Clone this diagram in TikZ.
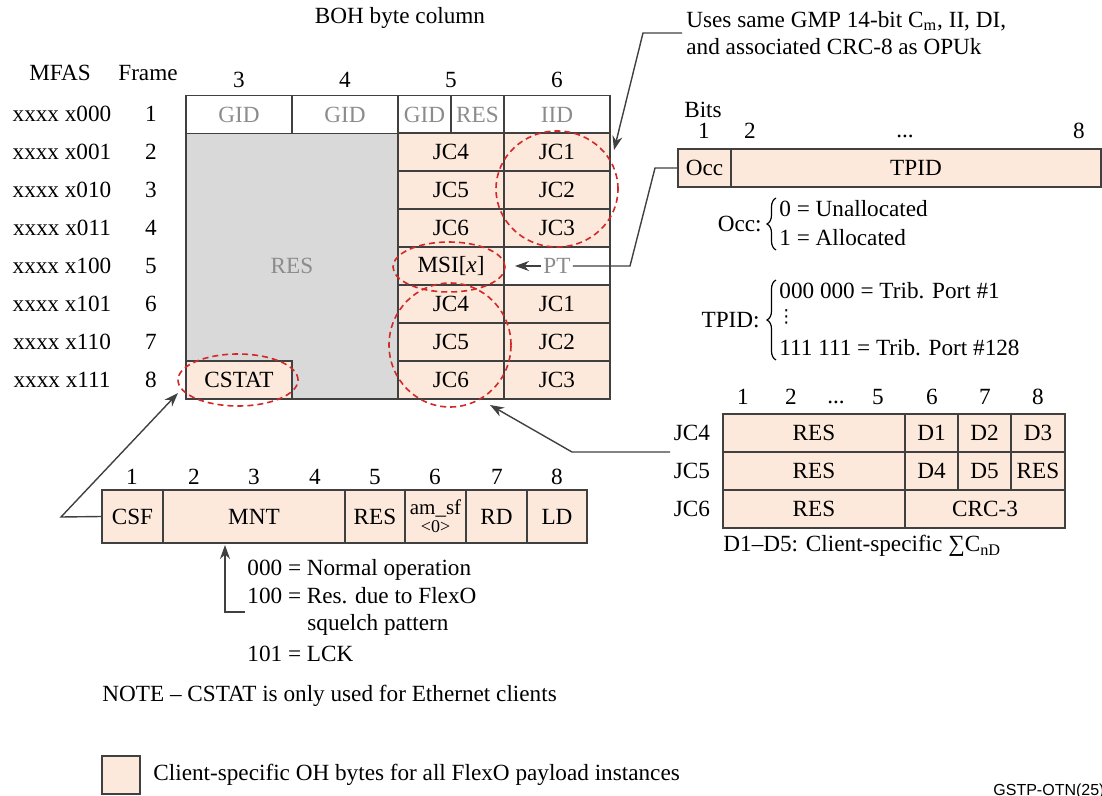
\documentclass[tikz,border=0pt]{standalone}
\usepackage{fontspec}
\setmainfont{Liberation Serif}
\setsansfont{Liberation Sans}
\newfontfamily\symfont{DejaVu Sans}
\usetikzlibrary{shapes.geometric,arrows.meta,decorations.pathreplacing}
\definecolor{clientoh}{RGB}{252,233,219}
\definecolor{resgray}{RGB}{217,217,217}
\definecolor{edgegray}{RGB}{64,64,64}
\definecolor{faded}{RGB}{140,140,140}
\definecolor{ringred}{RGB}{210,40,40}
\tikzset{
  byte/.style={
    rectangle,
    draw=edgegray,
    line width=0.8pt,
    fill=clientoh,
    minimum width=53pt,
    minimum height=19pt,
    inner sep=0pt,
  },
  hdrbyte/.style={byte, fill=white, text=faded},
  ring/.style={
    ellipse,
    draw=ringred,
    line width=0.8pt,
    dash pattern=on 3pt off 2pt,
    inner sep=0pt,
  },
  callout/.style={draw=edgegray, line width=0.7pt},
  pointer/.style={callout, -{Stealth[length=7pt,width=5pt]}},
  keyline/.style={anchor=west, inner sep=0pt},
  keybrace/.style={decorate, decoration={brace, amplitude=4.5pt}, line width=0.6pt},
}

\begin{document}
\begin{tikzpicture}[x=0.5pt, y=-0.5pt, font=\fontsize{11.6}{13.9}\selectfont]
    \useasboundingbox (0,0) rectangle (1102,796);

    % column and row headings
    \node (boh) at (400,18) {BOH byte column};
    \node (mfashead) at (60,73) {MFAS};
    \node (framehead) at (148,73) {Frame};
    \foreach \c/\x in {3/239,4/345,5/451,6/557}
        \node (col\c) at (\x,80) {\c};
    \foreach \m [count=\fr] in {000,001,010,011,100,101,110,111} {
        \node (mfas\fr) at (62,76+38*\fr) {xxxx x\m};
        \node (frame\fr) at (151,76+38*\fr) {\fr};
    }

    % BOH bytes
    \node[byte, fill=resgray, text=faded, minimum width=106pt, minimum height=133pt] (res) at (292,266) {RES};
    \node[hdrbyte] (gid3) at (239,114.5) {GID};
    \node[hdrbyte] (gid4) at (345,114.5) {GID};
    \node[hdrbyte, minimum width=26.5pt] (gid5) at (424.5,114.5) {GID};
    \node[hdrbyte, minimum width=26.5pt] (res5) at (477.5,114.5) {RES};
    \node[hdrbyte] (iid) at (557,114.5) {IID};
    \foreach \r/\jc in {2/4,3/5,4/6,6/4,7/5,8/6}
        \node[byte] (jcl\r) at (451,76+38*\r) {JC\jc};
    \foreach \r/\jc in {2/1,3/2,4/3,6/1,7/2,8/3}
        \node[byte] (jcr\r) at (557,76+38*\r) {JC\jc};
    \node[byte] (msi) at (451,266) {MSI[\textit{x}]};
    \node[hdrbyte] (ptcell) at (557,266) {};
    \node[text=faded, inner sep=1pt] (pt) at (557,266) {PT};
    \node[byte] (cstat) at (239,380) {CSTAT};

    % highlighted groups
    \node[ring, minimum width=61pt, minimum height=58pt] (gmpring) at (557,189) {};
    \node[ring, minimum width=56pt, minimum height=25pt] (msiring) at (449,267) {};
    \node[ring, minimum width=61pt, minimum height=62pt] (jcring) at (450,345) {};
    \node[ring, minimum width=60pt, minimum height=26pt] (cstatring) at (238,380) {};

    % GMP note
    \node[anchor=west, align=left, inner sep=2pt] (gmpnote) at (682,33) {Uses same GMP 14-bit C\textsubscript{m}, II, DI,\\and associated CRC-8 as OPUk};
    \coordinate (gmptip) at (614,150);
    \draw[pointer] (gmpnote.west) -- (643,33) -- (gmptip);

    % MSI byte
    \node (bits) at (703,110) {Bits};
    \node (bit1) at (704,131) {1};
    \node (bit2) at (750,131) {2};
    \node (bitdots) at (905,136) {...};
    \node (bit8) at (1079,131) {8};
    \node[byte, minimum width=26.5pt] (occ) at (704.5,168) {Occ};
    \node[byte, minimum width=185pt] (tpid) at (916,168) {TPID};
    \draw[callout] (occ.west) -- (655,168) -- (630,266) -- (pt.east);
    \draw[pointer] (pt.west) -- (515,266);

    \node[anchor=east, inner sep=0pt] (occlab) at (762,224) {Occ:};
    \node[keyline] (occ0) at (779,209) {0 = Unallocated};
    \node[keyline] (occ1) at (779,238) {1 = Allocated};
    \draw[keybrace] (776,250) -- (776,198);
    \node[anchor=east, inner sep=0pt] (tpidlab) at (760,320) {TPID:};
    \node[keyline] (tpid0) at (779,291) {000 000 = Trib. Port \#1};
    \node[keyline, font=\symfont\fontsize{9}{9}\selectfont] (tpiddots) at (777,317) {⋮};
    \node[keyline] (tpid127) at (779,348) {111 111 = Trib. Port \#128};
    \draw[keybrace] (776,360) -- (776,280);

    % JC4..JC6 bits
    \foreach \b/\x in {1/743,2/791,5/878,6/932,7/985,8/1038}
        \node (jcbit\b) at (\x,397) {\b};
    \node (jcbitdots) at (836,402) {...};
    \foreach \r/\y in {4/433,5/471,6/509}
        \node (jclab\r) at (692,\y) {JC\r};
    \node[byte, minimum width=91pt] (jc4res) at (814,433) {RES};
    \node[byte, minimum width=26.5pt] (d1) at (931.5,433) {D1};
    \node[byte, minimum width=26.5pt] (d2) at (984.5,433) {D2};
    \node[byte, minimum width=27pt] (d3) at (1038,433) {D3};
    \node[byte, minimum width=91pt] (jc5res) at (814,471) {RES};
    \node[byte, minimum width=26.5pt] (d4) at (931.5,471) {D4};
    \node[byte, minimum width=26.5pt] (d5) at (984.5,471) {D5};
    \node[byte, minimum width=27pt] (jc5res8) at (1038,471) {RES};
    \node[byte, minimum width=91pt] (jc6res) at (814,509) {RES};
    \node[byte, minimum width=80pt] (crc) at (985,509) {CRC-3};
    \node[anchor=west, inner sep=0pt] (dnote) at (723,546) {D1--D5: Client-specific ∑C\textsubscript{nD}};
    \coordinate (jcstart) at (670,452);
    \draw[pointer] (jcstart) -- (572,452) -- (490,405);

    % CSTAT bits
    \foreach \b/\x in {1/132,2/194,3/254,4/315,5/375,6/435,7/497,8/557}
        \node (csbit\b) at (\x,477) {\b};
    \node[byte, minimum width=30.5pt, minimum height=26.5pt] (csf) at (132.5,516.5) {CSF};
    \node[byte, minimum width=91pt, minimum height=26.5pt] (mnt) at (254,516.5) {MNT};
    \node[byte, minimum width=30pt, minimum height=26.5pt] (csres) at (375,516.5) {RES};
    \node[byte, minimum width=30.5pt, minimum height=26.5pt, align=center, font=\fontsize{10.5}{10}\selectfont] (amsf) at (435.5,516.5) {am\_sf\\[-1pt]{\small <0>}};
    \node[byte, minimum width=30.5pt, minimum height=26.5pt] (rd) at (496.5,516.5) {RD};
    \node[byte, minimum width=30pt, minimum height=26.5pt] (ld) at (557,516.5) {LD};
    \coordinate (cstattip) at (178,393);
    \draw[pointer] (csf.west) -- (61,517) -- (cstattip);

    \node[anchor=base west, inner sep=0pt] (mnt0) at (247,575) {000 = Normal operation};
    \node[anchor=base west, inner sep=0pt] (mnt4) at (247,603) {100 = Res. due to FlexO};
    \node[anchor=base west, inner sep=0pt] (mnt4b) at (307,630) {squelch pattern};
    \node[anchor=base west, inner sep=0pt] (mnt5) at (247,661) {101 = LCK};
    \coordinate (mntstart) at (245,612);
    \draw[pointer] (mntstart) -- (225,612) -- (225,545);

    % note and key
    \node[anchor=west, inner sep=0pt] (note) at (102,696) {NOTE -- CSTAT is only used for Ethernet clients};
    \node[byte, minimum width=19pt, minimum height=19pt] (key) at (121,775) {};
    \node[anchor=west, inner sep=0pt] (keytext) at (153,775) {Client-specific OH bytes for all FlexO payload instances};
    \node[anchor=west, inner sep=0pt, font=\sffamily\fontsize{8}{9}\selectfont] (fig) at (993,791) {GSTP-OTN(25)};

\end{tikzpicture}
\end{document}
